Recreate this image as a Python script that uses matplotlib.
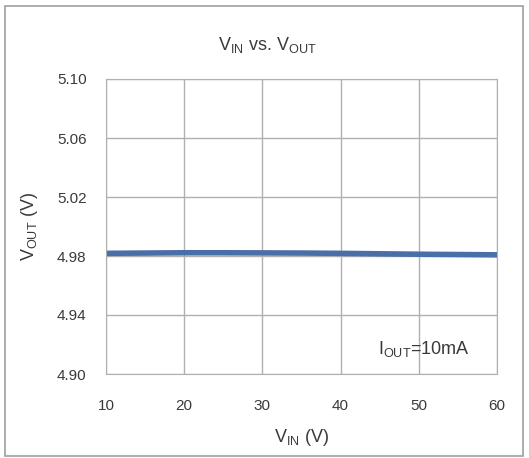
import matplotlib
matplotlib.use("Agg")
import matplotlib.pyplot as plt
from matplotlib.patches import Rectangle

# ---------- data ---------- #
vin  = [10, 15, 20, 25, 30, 35, 40, 45, 50, 55, 60]
vout = [4.9818, 4.9820, 4.9822, 4.9822, 4.9821, 4.9820,
        4.9818, 4.9815, 4.9812, 4.9810, 4.9808]
xticks = [10, 20, 30, 40, 50, 60]
yticks = [4.90, 4.94, 4.98, 5.02, 5.06, 5.10]

plt.rcParams["font.family"] = ["Liberation Sans", "DejaVu Sans"]
plt.rcParams["mathtext.default"] = "regular"

txt = "#3a3a3a"
fig = plt.figure(figsize=(5.29, 4.58), dpi=100)
ax = fig.add_axes([106/529, 84/458, 391/529, 295/458])

ax.plot(vin, vout, color="#4a6fa8", lw=4, solid_capstyle="butt")

ax.set_xlim(10, 60); ax.set_ylim(4.90, 5.10)
ax.set_xticks(xticks); ax.set_yticks(yticks)
ax.set_xticklabels([str(t) for t in xticks])
ax.set_yticklabels([f"{t:.2f}" for t in yticks])
ax.tick_params(length=0, labelsize=11, colors=txt)
ax.tick_params(axis="x", pad=18)
ax.tick_params(axis="y", pad=14)
for lbl in ax.get_yticklabels():
    lbl.set_va("center_baseline")
ax.grid(True, color="#b0b0b0", lw=1)
for s in ax.spines.values():
    s.set_color("#b0b0b0")

ax.set_xlabel("V$_{IN}$ (V)", fontsize=13, color=txt, labelpad=10)
ax.set_ylabel("V$_{OUT}$ (V)", fontsize=13, color=txt, labelpad=12)
fig.text(0.505, 1 - 45/458, "V$_{IN}$ vs. V$_{OUT}$", fontsize=13,
         color=txt, ha="center", va="center")
ax.text(0.93, 0.085, "I$_{OUT}$=10mA", transform=ax.transAxes,
        fontsize=13, color=txt, ha="right", va="center")

# outer frame of the chart
fig.patches.append(Rectangle((5/529, 2/458), 518/529, 450/458,
                             transform=fig.transFigure, fill=False,
                             edgecolor="#a0a0a0", lw=1.2))

fig.savefig("out.png", dpi=100)
